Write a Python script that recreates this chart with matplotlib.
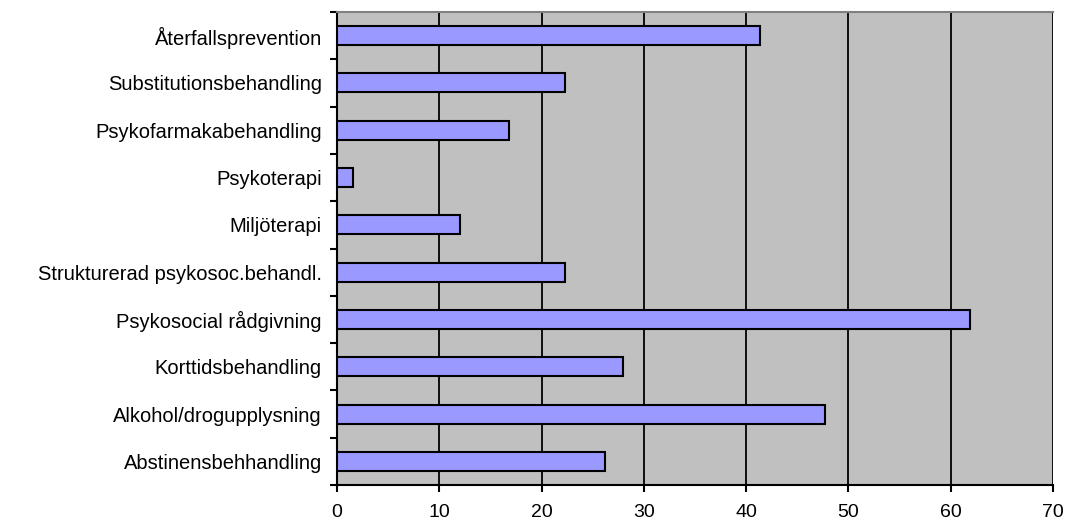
import numpy as np
import matplotlib
matplotlib.use('Agg')
from matplotlib import pyplot as plt
from matplotlib.ticker import FixedLocator

plt.rcParams['font.family'] = ['Liberation Sans', 'DejaVu Sans']

categories = ['Abstinensbehhandling', 'Alkohol/drogupplysning', 'Korttidsbehandling',
              'Psykosocial rådgivning', 'Strukturerad psykosoc.behandl.', 'Miljöterapi',
              'Psykoterapi', 'Psykofarmakabehandling', 'Substitutionsbehandling',
              'Återfallsprevention']
values = [26.2, 47.7, 28.0, 61.9, 22.3, 12.0, 1.6, 16.8, 22.3, 41.4]
x_ticks = [0, 10, 20, 30, 40, 50, 60, 70]

fig = plt.figure(figsize=(10.77, 5.28), dpi=100)
ax = fig.add_axes([337 / 1077, 1 - 485 / 528, (1053 - 337) / 1077, (485 - 12) / 528])

ax.set_facecolor('#C0C0C0')
y = np.arange(len(categories))
ax.barh(y, values, height=0.4, color='#9999FF', edgecolor='black', linewidth=1.5, zorder=3)

ax.set_xlim(0, 70)
ax.set_ylim(-0.5, len(categories) - 0.5)
ax.set_xticks(x_ticks)
ax.xaxis.grid(True, color='black', linewidth=1.3, zorder=1)
ax.set_axisbelow(True)

ax.set_yticks(y)
ax.set_yticklabels(categories, fontsize=14.5)
ax.yaxis.set_minor_locator(FixedLocator(np.arange(-0.5, len(categories), 1.0)))
ax.tick_params(axis='y', which='major', length=0, pad=11)
ax.tick_params(axis='y', which='minor', length=5, width=1.5, direction='out')
ax.tick_params(axis='x', length=5, width=1.5, direction='out', pad=9, labelsize=14)

ax.spines['left'].set_linewidth(1.5)
ax.spines['bottom'].set_linewidth(1.5)
ax.spines['top'].set_color('#808080')
ax.spines['top'].set_linewidth(1.5)
ax.spines['right'].set_visible(False)

fig.savefig('out.png', dpi=100)
